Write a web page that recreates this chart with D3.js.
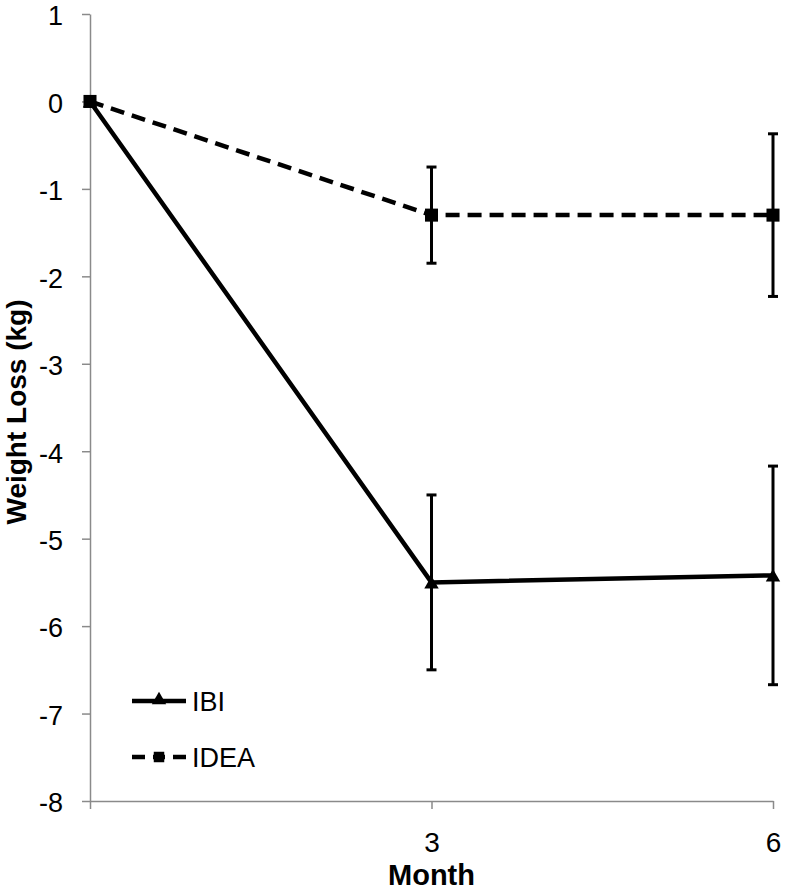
<!DOCTYPE html>
<html>
<head>
<meta charset="utf-8">
<script src="https://cdn.jsdelivr.net/npm/d3@7"></script>
<style>
  html, body { margin: 0; padding: 0; background: #fff; }
  svg { display: block; }
  text { font-family: "Liberation Sans", Arial, Helvetica, sans-serif; }
</style>
</head>
<body>
<svg id="chart" width="787" height="892"></svg>
<script>
// ---- data ----
const months = [0, 3, 6];
const ibiValues = [0, -5.5, -5.42];
const ibiErrors = [0, 1.0, 1.25];
const ideaValues = [0, -1.3, -1.3];
const ideaErrors = [0, 0.55, 0.93];
const yTicks = [1, 0, -1, -2, -3, -4, -5, -6, -7, -8];
const xTickLabels = ["", "3", "6"];
const seriesNames = ["IBI", "IDEA"];

const svg = d3.select("#chart");
const x = d3.scaleLinear().domain([0, 6]).range([90, 773]);
const y = d3.scaleLinear().domain([-8, 1]).range([801, 14]);
const axisColor = "#8a8a8a";

// y axis
const gy = svg.append("g").attr("transform", "translate(90,0)")
  .call(d3.axisLeft(y).tickValues(yTicks).tickSize(8).tickSizeOuter(0).tickPadding(19).tickFormat(d3.format("d")));
gy.select(".domain").attr("stroke", axisColor).attr("stroke-width", 1.5);
gy.selectAll(".tick line").attr("stroke", axisColor).attr("stroke-width", 1.5);
gy.selectAll(".tick text").attr("font-size", 27).attr("fill", "#000").attr("dy", "0.4em")
  .attr("font-family", "'Liberation Sans', Arial, sans-serif").text(d => d < 0 ? "-" + Math.abs(d) : d);

// x axis
const gx = svg.append("g").attr("transform", "translate(0,801)")
  .call(d3.axisBottom(x).tickValues(months).tickSize(8).tickSizeOuter(0).tickPadding(23)
    .tickFormat((d, i) => xTickLabels[i]));
gx.select(".domain").attr("stroke", axisColor).attr("stroke-width", 1.5);
gx.selectAll(".tick line").attr("stroke", axisColor).attr("stroke-width", 1.5);
gx.selectAll(".tick text").attr("font-size", 28).attr("fill", "#000")
  .attr("font-family", "'Liberation Sans', Arial, sans-serif");

// axis titles
svg.append("text").attr("x", (90 + 773) / 2).attr("y", 885).attr("text-anchor", "middle")
  .attr("font-size", 29).attr("font-weight", "bold").text("Month");
svg.append("text").attr("transform", "translate(26,412) rotate(-90)").attr("text-anchor", "middle")
  .attr("font-size", 28).attr("font-weight", "bold").text("Weight Loss (kg)");

const line = d3.line().x((d, i) => x(months[i])).y(d => y(d));

// error bars
function errorBars(vals, errs) {
  const g = svg.append("g").attr("stroke", "#000").attr("stroke-width", 3);
  months.forEach((m, i) => {
    if (errs[i] <= 0) return;
    const cx = x(m), top = y(vals[i] + errs[i]), bot = y(vals[i] - errs[i]);
    g.append("line").attr("x1", cx).attr("x2", cx).attr("y1", top).attr("y2", bot);
    g.append("line").attr("x1", cx - 5).attr("x2", cx + 5).attr("y1", top).attr("y2", top);
    g.append("line").attr("x1", cx - 5).attr("x2", cx + 5).attr("y1", bot).attr("y2", bot);
  });
}
errorBars(ideaValues, ideaErrors);
errorBars(ibiValues, ibiErrors);

// lines
svg.append("path").datum(ideaValues).attr("d", line).attr("fill", "none")
  .attr("stroke", "#000").attr("stroke-width", 4.5).attr("stroke-dasharray", "14,8");
svg.append("path").datum(ibiValues).attr("d", line).attr("fill", "none")
  .attr("stroke", "#000").attr("stroke-width", 4.5);

// markers
const tri = d3.symbol().type(d3.symbolTriangle).size(90);
const sq = d3.symbol().type(d3.symbolSquare).size(170);
svg.append("g").selectAll("path").data(ibiValues).join("path")
  .attr("transform", (d, i) => `translate(${x(months[i])},${y(d) + 2})`).attr("d", tri).attr("fill", "#000");
svg.append("g").selectAll("path").data(ideaValues).join("path")
  .attr("transform", (d, i) => `translate(${x(months[i])},${y(d)})`).attr("d", sq).attr("fill", "#000");

// legend
const lg = svg.append("g");
lg.append("line").attr("x1", 132).attr("x2", 186).attr("y1", 701).attr("y2", 701)
  .attr("stroke", "#000").attr("stroke-width", 4.5);
lg.append("path").attr("transform", "translate(159,700)").attr("d", tri).attr("fill", "#000");
lg.append("text").attr("x", 192).attr("y", 711).attr("font-size", 27).text(seriesNames[0]);
lg.append("line").attr("x1", 132).attr("x2", 186).attr("y1", 757).attr("y2", 757)
  .attr("stroke", "#000").attr("stroke-width", 4.5).attr("stroke-dasharray", "13,8,12,8,13");
lg.append("path").attr("transform", "translate(159,757)").attr("d", d3.symbol().type(d3.symbolSquare).size(110)).attr("fill", "#000");
lg.append("text").attr("x", 192).attr("y", 767).attr("font-size", 27).text(seriesNames[1]);
</script>
</body>
</html>
